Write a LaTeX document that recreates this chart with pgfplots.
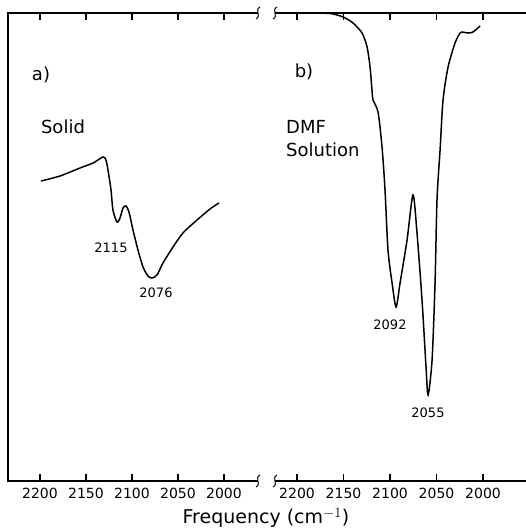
\documentclass[border=0pt]{standalone}
\usepackage{pgfplots}
\pgfplotsset{compat=1.18}
\usepackage{fontspec}
\setmainfont{DejaVu Sans}
\begin{document}
\begin{tikzpicture}
\useasboundingbox (0pt,0pt) rectangle (526pt,531pt);
\pgfplotsset{
  panel/.style={
    anchor=south west, scale only axis, height=468pt,
    x dir=reverse, y dir=reverse, ymin=13, ymax=481,
    axis line style={draw=none},
    xtick={2200,2150,2100,2050,2000}, ytick=\empty,
    xtick pos=both, xticklabel pos=lower,
    major tick length=0pt,
    /pgf/number format/1000 sep={},
    /pgf/number format/assume math mode=true,
    tick label style={font=\fontsize{14}{16}\selectfont},
    xticklabel style={yshift=-4pt},
    clip=false,
  },
  curve/.style={black, line width=1.5pt, smooth, tension=0.45, no markers},
}
\begin{axis}[panel, at={(8pt,50pt)}, width=250pt,
  xmin=1963, xmax=2234.8]
\addplot[curve] coordinates {
(2198.9,181) (2178.3,176) (2156.5,168) (2142.4,163) (2131.5,157)
(2128.3,160) (2126.1,170) (2122.8,190) (2120.7,210) (2116.3,222)
(2113.0,218) (2109.8,208) (2106.5,206) (2103.3,212) (2098.9,230)
(2093.5,250) (2088.0,267) (2082.6,276) (2078.3,278) (2072.8,275)
(2066.3,263) (2055.4,247) (2044.6,233) (2029.3,220) (2015.2,209)
(2005.4,203)};
\end{axis}
\begin{axis}[panel, at={(275pt,50pt)}, width=251pt,
  xmin=1953.8, xmax=2223.7]
\addplot[curve] coordinates {
(2190,13) (2164.5,13.5) (2150.5,17) (2139.8,23) (2130.1,33) (2124.7,47)
(2121.5,67) (2119.4,90) (2118.3,100) (2112.9,112) (2108.6,147)
(2105.4,190) (2102.2,250) (2097.8,283) (2093.5,307) (2089.2,283)
(2081.7,240) (2075.3,195) (2071.0,233) (2065.6,300) (2061.3,367)
(2059.1,395) (2054.8,360) (2051.6,283) (2049.5,200) (2046.2,150)
(2043.0,100) (2037.6,67) (2030.1,43) (2024.7,33) (2022.6,32)
(2016.1,33) (2010.8,32) (2003.2,26)};
\end{axis}
% frame lines
\draw[line width=1.4pt] (258pt,518pt) -- (8pt,518pt) -- (8pt,50pt) -- (258pt,50pt);
\draw[line width=1.4pt] (275pt,518pt) -- (526pt,518pt);
\draw[line width=1.4pt] (275pt,50pt) -- (526pt,50pt);
% tick marks (axis decoration)
\foreach \tx in {40,86,132,178,224,297,343.5,390,436.5,483}{
  \draw[line width=1.1pt] (\tx pt,50pt) -- (\tx pt,57pt);
  \draw[line width=1.1pt] (\tx pt,518pt) -- (\tx pt,511pt);
}
% break marks
\foreach \bx/\by in {258/518, 258/50, 275/518, 275/50}{
  \draw[line width=1pt] (\bx pt-2pt,\by pt-6pt) .. controls (\bx pt+4pt,\by pt-3pt) and (\bx pt-4pt,\by pt+3pt) .. (\bx pt+2pt,\by pt+6pt);
}
\begin{scope}[every node/.style={inner sep=0pt}]
\node[font=\fontsize{18}{20}\selectfont] at (41pt,456pt) {a)};
\node[font=\fontsize{18}{20}\selectfont] at (63pt,404pt) {Solid};
\node[font=\fontsize{13}{15}\selectfont] at (111pt,283pt) {2115};
\node[font=\fontsize{13}{15}\selectfont] at (156pt,238pt) {2076};
\node[font=\fontsize{18}{20}\selectfont] at (304pt,459pt) {b)};
\node[font=\fontsize{18}{20}\selectfont, anchor=west] at (286pt,404pt) {DMF};
\node[font=\fontsize{18}{20}\selectfont, anchor=west] at (286pt,381pt) {Solution};
\node[font=\fontsize{13}{15}\selectfont] at (390pt,206pt) {2092};
\node[font=\fontsize{13}{15}\selectfont] at (428pt,118pt) {2055};
\node[font=\fontsize{19}{21}\selectfont] at (266pt,13pt) {Frequency (cm$^{-1}$)};
\end{scope}
\end{tikzpicture}
\end{document}
